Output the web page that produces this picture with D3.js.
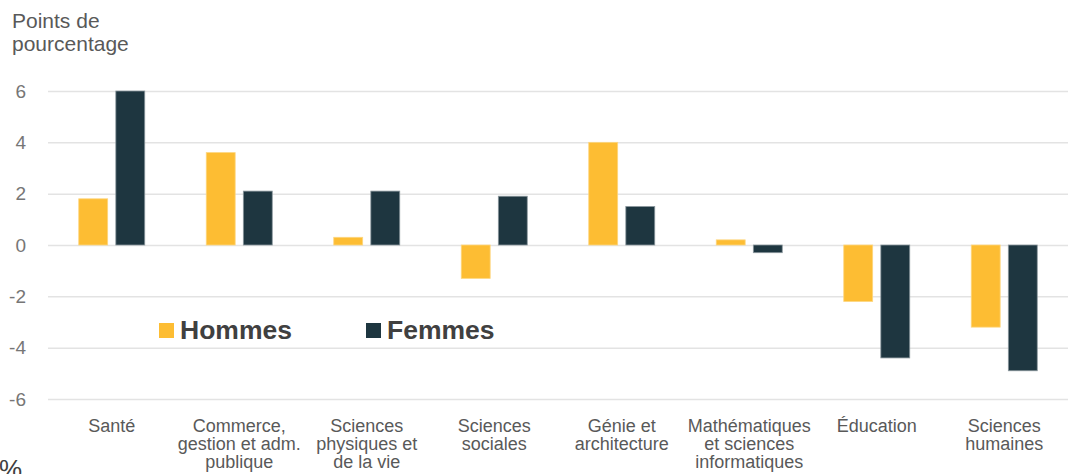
<!DOCTYPE html>
<html>
<head>
<meta charset="utf-8">
<script src="https://cdn.jsdelivr.net/npm/d3@7"></script>
<style>
  body { margin: 0; background: #fff; }
  svg { display: block; font-family: "Liberation Sans", Arial, sans-serif; }
</style>
</head>
<body>
<div id="chart"></div>
<script>
// data
const categories = [
  ["Santé"],
  ["Commerce,", "gestion et adm.", "publique"],
  ["Sciences", "physiques et", "de la vie"],
  ["Sciences", "sociales"],
  ["Génie et", "architecture"],
  ["Mathématiques", "et sciences", "informatiques"],
  ["Éducation"],
  ["Sciences", "humaines"]
];
const series = ["Hommes", "Femmes"];
const hommes = [1.8, 3.6, 0.3, -1.3, 4.0, 0.2, -2.2, -3.2];
const femmes = [6.0, 2.1, 2.1, 1.9, 1.5, -0.3, -4.4, -4.9];
const yTicks = [-6, -4, -2, 0, 2, 4, 6];
const colors = ["#FDBD33", "#1E3640"];
const strokes = ["#FDD67F", "#8A979D"];

const width = 1069, height = 474;
const margin = { top: 91, right: 1, bottom: 75, left: 48 };

const svg = d3.select("#chart").append("svg")
  .attr("width", width)
  .attr("height", height);

const x0 = d3.scaleBand()
  .domain(d3.range(categories.length))
  .range([margin.left, width - margin.right]);

// pair of bars ~66px wide, centred in each band
const pairW = 66;
const x1 = d3.scaleBand()
  .domain(series)
  .range([(x0.bandwidth() - pairW) / 2, (x0.bandwidth() + pairW) / 2])
  .paddingInner(0.22);

const y = d3.scaleLinear()
  .domain([-6, 6])
  .range([height - margin.bottom, margin.top]);

// gridlines + tick labels
const yAxis = d3.axisLeft(y)
  .tickValues(yTicks)
  .tickSize(-(width - margin.left - margin.right))
  .tickPadding(22)
  .tickFormat(d => String(d));

svg.append("g")
  .attr("transform", `translate(${margin.left},0)`)
  .call(yAxis)
  .attr("font-size", 19)
  .attr("font-family", "Liberation Sans, Arial, sans-serif")
  .call(g => g.select(".domain").remove())
  .call(g => g.selectAll(".tick line").attr("stroke", "#E3E3E3").attr("stroke-width", 1.5))
  .call(g => g.selectAll(".tick text").attr("fill", "#767676"));

// bars
const rows = categories.map((c, i) => ({ i, vals: [hommes[i], femmes[i]] }));

const groups = svg.append("g").selectAll("g")
  .data(rows)
  .join("g")
  .attr("transform", d => `translate(${x0(d.i)},0)`);

groups.selectAll("rect")
  .data(d => d.vals.map((v, k) => ({ key: series[k], k, v })))
  .join("rect")
  .attr("x", d => x1(d.key))
  .attr("width", x1.bandwidth())
  .attr("y", d => y(Math.max(0, d.v)))
  .attr("height", d => Math.abs(y(d.v) - y(0)))
  .attr("fill", d => colors[d.k])
  .attr("stroke", d => strokes[d.k])
  .attr("stroke-width", 0.8);

// category labels
const xl = svg.append("g").selectAll("text")
  .data(categories)
  .join("text")
  .attr("x", (d, i) => x0(i) + x0.bandwidth() / 2)
  .attr("y", 432)
  .attr("text-anchor", "middle")
  .attr("fill", "#595959")
  .attr("font-size", 18);

xl.selectAll("tspan")
  .data(d => d)
  .join("tspan")
  .attr("x", function () { return this.parentNode.getAttribute("x"); })
  .attr("dy", (d, i) => i === 0 ? 0 : 18)
  .text(d => d);

// axis title
svg.append("text")
  .attr("x", 12)
  .attr("y", 28)
  .attr("fill", "#595959")
  .attr("font-size", 21)
  .selectAll("tspan")
  .data(["Points de", "pourcentage"])
  .join("tspan")
  .attr("x", 12)
  .attr("dy", (d, i) => i === 0 ? 0 : 23)
  .text(d => d);

// legend
const legend = svg.append("g");
const legendX = [159, 366];
series.forEach((s, k) => {
  legend.append("rect")
    .attr("x", legendX[k])
    .attr("y", 323)
    .attr("width", 15)
    .attr("height", 15)
    .attr("fill", colors[k]);
  legend.append("text")
    .attr("x", legendX[k] + 21)
    .attr("y", 339)
    .attr("fill", "#404040")
    .attr("font-size", 26.5)
    .attr("font-weight", "bold")
    .text(s);
});

// stray percent sign cut at the bottom edge
svg.append("text")
  .attr("x", -1)
  .attr("y", 478)
  .attr("fill", "#404040")
  .attr("font-size", 26)
  .text("%");
</script>
</body>
</html>
